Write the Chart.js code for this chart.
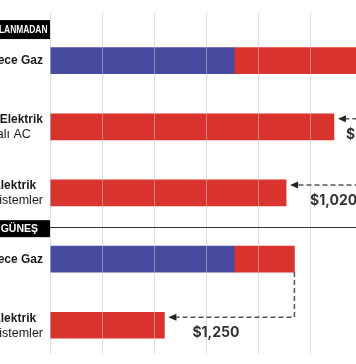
<!DOCTYPE html>
<html><head><meta charset="utf-8">
<script src="https://cdn.jsdelivr.net/npm/chart.js@4.4.1/dist/chart.umd.min.js"></script>
<style>html,body{margin:0;padding:0;background:#fff;overflow:hidden}canvas{display:block}</style>
</head><body>
<canvas id="c" width="356" height="364"></canvas>
<script>
// ---- data ----
const categories = [
  ["Sadece Gaz"],
  ["Tamamıyla Elektrik", "Isı Pompalı AC"],
  ["Tamamıyla Elektrik", "Isı Pompası Sistemler"],
  ["Sadece Gaz"],
  ["Tamamıyla Elektrik", "Isı Pompası Sistemler"]
];
const gasCost = [1770, 0, 0, 1770, 0];
const electricCost = [1520, 2730, 2270, 580, 1100];
const sectionLabels = ["GÜNEŞ PANELİ KULLANMADAN", "GÜNEŞ"];
const savingsLabels = ["$560", "$1,020", "$1,250"];
const savingsFrom = [0, 0, 3];
const savingsTo = [1, 2, 4];
const gridStep = 500;
const axisMax = 2942;

const totals = gasCost.map((g, i) => g + electricCost[i]);
const toPoints = arr => arr.map((v, i) => ({ x: v, y: i }));

const overlay = {
  id: 'overlay',
  afterDraw(chart, args, o) {
    const { ctx, chartArea: ca, scales: { x, y } } = chart;
    ctx.save();
    // divider line between sections
    const yDiv = y.getPixelForValue(o.dividerValue);
    ctx.strokeStyle = '#333';
    ctx.lineWidth = 1;
    ctx.beginPath();
    ctx.moveTo(ca.left, Math.round(yDiv) + 0.5);
    ctx.lineTo(ca.right, Math.round(yDiv) + 0.5);
    ctx.stroke();

    // section boxes
    o.sections.forEach((s, i) => {
      const yc = y.getPixelForValue(s.value);
      ctx.fillStyle = '#000';
      ctx.fillRect(-300, yc - s.h / 2, ca.left + 300, s.h);
      ctx.save();
      ctx.translate(ca.left - s.pad, yc + 0.5);
      ctx.scale(s.sx, 1);
      ctx.fillStyle = '#fff';
      ctx.font = s.font;
      ctx.textAlign = 'right';
      ctx.textBaseline = 'middle';
      ctx.fillText(sectionLabels[i], 0, 0);
      ctx.restore();
    });

    // category labels
    categories.forEach((lines, i) => {
      const yc = y.getPixelForValue(i);
      const fonts = lines.map((_, k) => k === 0 ? 'bold 12px "Liberation Sans", Arial, sans-serif' : '12.5px "Liberation Sans", Arial, sans-serif');
      const widths = lines.map((t, k) => { ctx.font = fonts[k]; return ctx.measureText(t).width; });
      const bw = Math.max(...widths);
      const right = ca.left - 7;
      const lh = 15;
      const top = yc + 0.5 - (lines.length - 1) * lh / 2;
      ctx.fillStyle = '#1a1a1a';
      ctx.textAlign = 'center';
      ctx.textBaseline = 'middle';
      lines.forEach((t, k) => {
        ctx.font = fonts[k];
        ctx.fillText(t, right - bw / 2, top + k * lh);
      });
    });

    // savings arrows
    savingsLabels.forEach((lab, i) => {
      const f = savingsFrom[i], t = savingsTo[i];
      const xFrom = x.getPixelForValue(totals[f]);
      const yFrom = y.getPixelForValue(f) + 13;
      const yA = y.getPixelForValue(t) - 8;
      const tip = x.getPixelForValue(totals[t]) + 4;
      ctx.strokeStyle = '#555';
      ctx.lineWidth = 1.5;
      ctx.setLineDash([5, 3]);
      ctx.beginPath();
      ctx.moveTo(xFrom, yFrom);
      ctx.lineTo(xFrom, yA);
      ctx.lineTo(tip + 8, yA);
      ctx.stroke();
      ctx.setLineDash([]);
      ctx.fillStyle = '#222';
      ctx.beginPath();
      ctx.moveTo(tip, yA);
      ctx.lineTo(tip + 8, yA - 3.5);
      ctx.lineTo(tip + 8, yA + 3.5);
      ctx.closePath();
      ctx.fill();
      ctx.font = 'bold 14px Inter, "Open Sans", sans-serif';
      ctx.fillStyle = '#333';
      ctx.textAlign = 'left';
      ctx.textBaseline = 'middle';
      ctx.fillText(lab, tip + o.labelDx[i], yA + 15.5);
    });
    ctx.restore();
  }
};

new Chart(document.getElementById('c'), {
  type: 'bar',
  data: {
    datasets: [
      { label: 'Gaz', data: toPoints(gasCost), backgroundColor: '#474ca0', stack: 's', barThickness: 26, borderWidth: 0 },
      { label: 'Elektrik', data: toPoints(electricCost), backgroundColor: '#d8332d', stack: 's', barThickness: 26, borderWidth: 0 }
    ]
  },
  options: {
    indexAxis: 'y',
    responsive: false,
    animation: false,
    events: [],
    layout: { padding: { left: 50, right: 0, top: 13, bottom: 10 } },
    scales: {
      x: {
        type: 'linear', stacked: true, min: 0, max: axisMax,
        ticks: { display: false },
        afterBuildTicks: s => {
          const t = [];
          for (let v = 0; v <= axisMax; v += gridStep) t.push({ value: v });
          s.ticks = t;
        },
        grid: { color: 'rgba(195,195,195,0.55)', lineWidth: 1, drawTicks: false, z: 1 },
        border: { display: false }
      },
      y: {
        type: 'linear', display: false, reverse: true, min: -0.4626, max: 4.177
      }
    },
    plugins: {
      legend: { display: false },
      tooltip: { enabled: false },
      overlay: {
        dividerValue: 2.52,
        sections: [
          { value: -0.47, h: 19, pad: 2.5, sx: 0.8, font: 'bold 10.5px "Liberation Sans", Arial, sans-serif' },
          { value: 2.54, h: 17, pad: 12, sx: 1, font: 'bold 10.5px "Liberation Sans", Arial, sans-serif' }
        ],
        labelDx: [8, 20, 24]
      }
    }
  },
  plugins: [overlay]
});
</script>
</body></html>
